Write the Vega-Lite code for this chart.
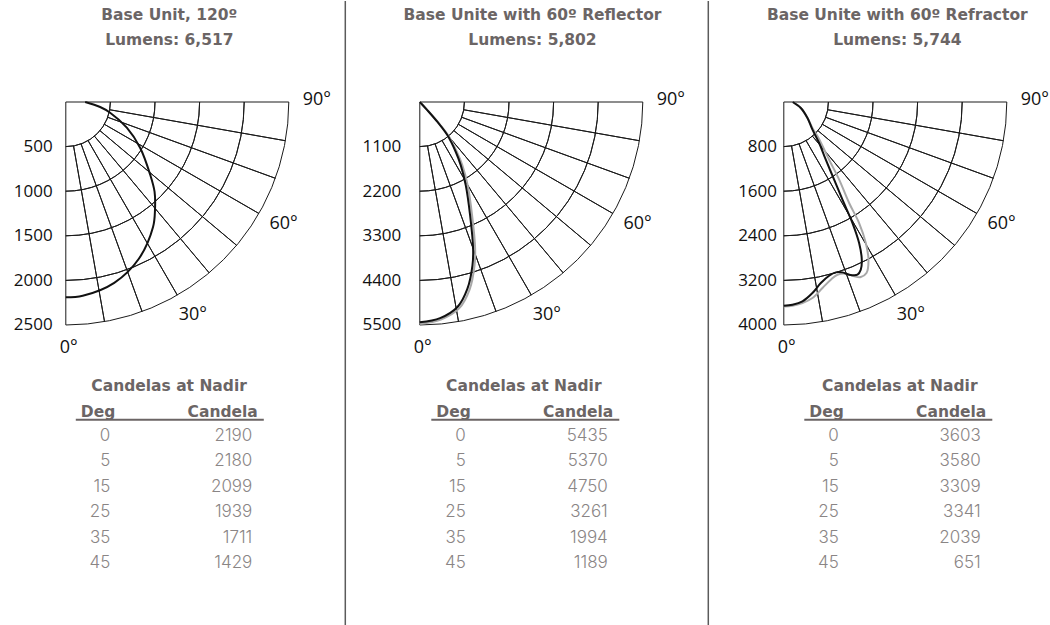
{
  "$schema": "https://vega.github.io/schema/vega-lite/v6.json",
  "padding": {"left": 12.8, "top": 0, "right": 0, "bottom": 0},
  "background": "white",
  "bounds": "full",
  "spacing": 12.5,
  "config": {"view": {"stroke": null}, "font": "Inter"},
  "datasets": {
    "deglabels": [{"lab": "0°", "a": 0}, {"lab": "30°", "a": 30}, {"lab": "60°", "a": 60}, {"lab": "90°", "a": 90}]
  },
  "hconcat": [
    {
      "bounds": "flush",
      "spacing": 48,
      "vconcat": [
        {
          "width": 223, "height": 53,
          "data": {"values": [{"line": 1, "text": "Base Unit, 120º"}, {"line": 2, "text": "Lumens: 6,517"}]},
          "mark": {"type": "text", "font": "DejaVu Sans", "fontSize": 15.5, "fontWeight": "bold", "color": "#6b6565", "baseline": "middle", "dx": -8},
          "encoding": {
            "y": {"field": "line", "type": "ordinal", "scale": {"type": "point", "padding": 0.56}, "axis": null},
            "text": {"field": "text"}
          }
        },
        {
          "bounds": "flush",
          "spacing": 94.3,
          "center": true,
          "vconcat": [
            {
              "width": 223, "height": 223,
              "layer": [
                {
                  "data": {"values": [
                    {"a0": 0, "a1": 90, "r0": 0, "r1": 2500},
                    {"a0": 0, "a1": 90, "r0": 500, "r1": 500}, {"a0": 0, "a1": 90, "r0": 1000, "r1": 1000},
                    {"a0": 0, "a1": 90, "r0": 1500, "r1": 1500}, {"a0": 0, "a1": 90, "r0": 2000, "r1": 2000},
                    {"a0": 10, "a1": 10, "r0": 500, "r1": 2500}, {"a0": 20, "a1": 20, "r0": 500, "r1": 2500},
                    {"a0": 30, "a1": 30, "r0": 500, "r1": 2500}, {"a0": 40, "a1": 40, "r0": 500, "r1": 2500},
                    {"a0": 50, "a1": 50, "r0": 500, "r1": 2500}, {"a0": 60, "a1": 60, "r0": 500, "r1": 2500},
                    {"a0": 70, "a1": 70, "r0": 500, "r1": 2500}, {"a0": 80, "a1": 80, "r0": 500, "r1": 2500}
                  ]},
                  "mark": {"type": "arc", "filled": false, "color": "#1a1a1a", "strokeWidth": 1},
                  "encoding": {
                    "x": {"datum": 0, "type": "quantitative", "scale": {"domain": [0, 2500], "nice": false, "zero": true}, "axis": null},
                    "y": {"datum": 0, "type": "quantitative", "scale": {"domain": [0, 2500], "nice": false, "reverse": true}, "axis": {"values": [500, 1000, 1500, 2000, 2500], "format": "d", "title": null, "domain": false, "ticks": false, "tickSize": 0, "grid": false, "labelFont": "Open Sans", "labelFontSize": 17, "labelColor": "#111111", "labelPadding": 13.6, "labelBaseline": "middle"}},
                    "theta": {"field": "a0", "type": "quantitative", "stack": null, "scale": {"domain": [0, 90], "range": [3.14159265, 1.57079633]}},
                    "theta2": {"field": "a1"},
                    "radius": {"field": "r0", "type": "quantitative", "scale": {"type": "linear", "domain": [0, 2500], "range": [0, 223], "zero": true}},
                    "radius2": {"field": "r1"}
                  }
                },
                {
                  "data": {"values": [
                    {"i": 0, "x": 0, "y": 2190}, {"i": 1, "x": 190, "y": 2172}, {"i": 2, "x": 543, "y": 2027},
                    {"i": 3, "x": 819, "y": 1757}, {"i": 4, "x": 978, "y": 1402}, {"i": 5, "x": 1000, "y": 1205},
                    {"i": 6, "x": 995, "y": 1005}, {"i": 7, "x": 945, "y": 811}, {"i": 8, "x": 833, "y": 512},
                    {"i": 9, "x": 684, "y": 288}, {"i": 10, "x": 497, "y": 120}, {"i": 11, "x": 385, "y": 56},
                    {"i": 12, "x": 217, "y": 0}
                  ]},
                  "mark": {"type": "line", "interpolate": "catmull-rom", "color": "#111111", "strokeWidth": 2},
                  "encoding": {
                    "x": {"field": "x", "type": "quantitative", "scale": {"domain": [0, 2500], "nice": false, "zero": true}, "axis": null},
                    "y": {"field": "y", "type": "quantitative", "scale": {"domain": [0, 2500], "nice": false, "reverse": true}, "axis": {"values": [500, 1000, 1500, 2000, 2500], "format": "d", "title": null, "domain": false, "ticks": false, "tickSize": 0, "grid": false, "labelFont": "Open Sans", "labelFontSize": 17, "labelColor": "#111111", "labelPadding": 13.6, "labelBaseline": "middle"}},
                    "order": {"field": "i", "type": "quantitative"}
                  }
                },
                {
                  "data": {"name": "deglabels"},
                  "mark": {"type": "text", "radius": 248, "font": "Open Sans", "fontSize": 18, "color": "#111111", "align": "center", "baseline": "middle", "dx": 3, "dy": -2},
                  "encoding": {
                    "x": {"datum": 0, "type": "quantitative", "scale": {"domain": [0, 2500], "nice": false, "zero": true}, "axis": null},
                    "y": {"datum": 0, "type": "quantitative", "scale": {"domain": [0, 2500], "nice": false, "reverse": true}, "axis": {"values": [500, 1000, 1500, 2000, 2500], "format": "d", "title": null, "domain": false, "ticks": false, "tickSize": 0, "grid": false, "labelFont": "Open Sans", "labelFontSize": 17, "labelColor": "#111111", "labelPadding": 13.6, "labelBaseline": "middle"}},
                    "theta": {"field": "a", "type": "quantitative", "stack": null, "scale": {"domain": [0, 90], "range": [3.14159265, 1.57079633]}},
                    "text": {"field": "lab"}
                  }
                }
              ]
            },
            {
              "width": 204, "height": 160.6,
              "title": {"text": "Candelas at Nadir", "font": "DejaVu Sans", "fontSize": 15.5, "fontWeight": "bold", "color": "#6b6565", "offset": 9.5, "anchor": "middle", "dx": -8.2},
              "data": {"values": [
                {"Deg": 0, "Candela": 2190}, {"Deg": 5, "Candela": 2180}, {"Deg": 15, "Candela": 2099},
                {"Deg": 25, "Candela": 1939}, {"Deg": 35, "Candela": 1711}, {"Deg": 45, "Candela": 1429}
              ]},
              "layer": [
                {
                  "mark": {"type": "text", "align": "right", "baseline": "middle", "dx": 29.5, "font": "Inter", "fontSize": 17, "fontWeight": 300, "color": "#8a8585"},
                  "encoding": {
                    "x": {"datum": "Deg", "type": "nominal", "scale": {"type": "band", "domain": ["Deg", "Candela"], "range": [0, 188], "paddingInner": 0.938, "paddingOuter": 0}, "axis": {"orient": "top", "bandPosition": 0, "labelAngle": 0, "title": null, "domain": true, "domainColor": "#6b6565", "domainWidth": 2, "ticks": false, "tickSize": 0, "labelFont": "DejaVu Sans", "labelFontSize": 15.5, "labelFontWeight": "bold", "labelColor": "#6b6565", "labelPadding": 3, "labelBaseline": "alphabetic", "labelOverlap": false, "labelAlign": {"condition": {"test": "datum.value == 'Deg'", "value": "left"}, "value": "right"}}},
                    "y": {"field": "Deg", "type": "ordinal", "scale": {"type": "point", "padding": 0.65}, "axis": null},
                    "text": {"field": "Deg"}
                  }
                },
                {
                  "mark": {"type": "text", "align": "right", "baseline": "middle", "dx": -5.5, "font": "Inter", "fontSize": 17, "fontWeight": 300, "color": "#8a8585"},
                  "encoding": {
                    "x": {"datum": "Candela", "type": "nominal", "scale": {"type": "band", "domain": ["Deg", "Candela"], "range": [0, 188], "paddingInner": 0.938, "paddingOuter": 0}, "axis": {"orient": "top", "bandPosition": 0, "labelAngle": 0, "title": null, "domain": true, "domainColor": "#6b6565", "domainWidth": 2, "ticks": false, "tickSize": 0, "labelFont": "DejaVu Sans", "labelFontSize": 15.5, "labelFontWeight": "bold", "labelColor": "#6b6565", "labelPadding": 3, "labelBaseline": "alphabetic", "labelOverlap": false, "labelAlign": {"condition": {"test": "datum.value == 'Deg'", "value": "left"}, "value": "right"}}},
                    "y": {"field": "Deg", "type": "ordinal", "scale": {"type": "point", "padding": 0.65}, "axis": null},
                    "text": {"field": "Candela"}
                  }
                }
              ]
            }
          ]
        }
      ]
    },
    {
      "width": 3.5, "height": 625,
      "data": {"values": [{"s": 0}]},
      "mark": {"type": "rule", "color": "#5b5b5b", "strokeWidth": 1.5},
      "encoding": {"x": {"field": "s", "type": "quantitative", "scale": {"domain": [0, 1]}, "axis": null}}
    },
    {
      "bounds": "flush",
      "spacing": 48,
      "vconcat": [
        {
          "width": 274.75, "height": 53,
          "data": {"values": [{"line": 1, "text": "Base Unite with 60º Reflector"}, {"line": 2, "text": "Lumens: 5,802"}]},
          "mark": {"type": "text", "font": "DejaVu Sans", "fontSize": 15.5, "fontWeight": "bold", "color": "#6b6565", "baseline": "middle", "dx": -24.7},
          "encoding": {
            "y": {"field": "line", "type": "ordinal", "scale": {"type": "point", "padding": 0.56}, "axis": null},
            "text": {"field": "text"}
          }
        },
        {
          "bounds": "flush",
          "spacing": 94.3,
          "center": true,
          "vconcat": [
            {
              "width": 223, "height": 223,
              "layer": [
                {
                  "data": {"values": [
                    {"a0": 0, "a1": 90, "r0": 0, "r1": 5500},
                    {"a0": 0, "a1": 90, "r0": 1100, "r1": 1100}, {"a0": 0, "a1": 90, "r0": 2200, "r1": 2200},
                    {"a0": 0, "a1": 90, "r0": 3300, "r1": 3300}, {"a0": 0, "a1": 90, "r0": 4400, "r1": 4400},
                    {"a0": 10, "a1": 10, "r0": 1100, "r1": 5500}, {"a0": 20, "a1": 20, "r0": 1100, "r1": 5500},
                    {"a0": 30, "a1": 30, "r0": 1100, "r1": 5500}, {"a0": 40, "a1": 40, "r0": 1100, "r1": 5500},
                    {"a0": 50, "a1": 50, "r0": 1100, "r1": 5500}, {"a0": 60, "a1": 60, "r0": 1100, "r1": 5500},
                    {"a0": 70, "a1": 70, "r0": 1100, "r1": 5500}, {"a0": 80, "a1": 80, "r0": 1100, "r1": 5500}
                  ]},
                  "mark": {"type": "arc", "filled": false, "color": "#1a1a1a", "strokeWidth": 1},
                  "encoding": {
                    "x": {"datum": 0, "type": "quantitative", "scale": {"domain": [0, 5500], "nice": false, "zero": true}, "axis": null},
                    "y": {"datum": 0, "type": "quantitative", "scale": {"domain": [0, 5500], "nice": false, "reverse": true}, "axis": {"values": [1100, 2200, 3300, 4400, 5500], "format": "d", "title": null, "domain": false, "ticks": false, "tickSize": 0, "grid": false, "labelFont": "Open Sans", "labelFontSize": 17, "labelColor": "#111111", "labelPadding": 19, "labelBaseline": "middle"}},
                    "theta": {"field": "a0", "type": "quantitative", "stack": null, "scale": {"domain": [0, 90], "range": [3.14159265, 1.57079633]}},
                    "theta2": {"field": "a1"},
                    "radius": {"field": "r0", "type": "quantitative", "scale": {"type": "linear", "domain": [0, 5500], "range": [0, 223], "zero": true}},
                    "radius2": {"field": "r1"}
                  }
                },
                {
                  "data": {"values": [
                    {"i": 0, "x": 0, "y": 5470}, {"i": 1, "x": 520, "y": 5365}, {"i": 2, "x": 970, "y": 5090},
                    {"i": 3, "x": 1230, "y": 4620}, {"i": 4, "x": 1350, "y": 4028}, {"i": 5, "x": 1365, "y": 3617},
                    {"i": 6, "x": 1290, "y": 2795}, {"i": 7, "x": 1180, "y": 2055}, {"i": 8, "x": 1050, "y": 1562},
                    {"i": 9, "x": 915, "y": 1233}, {"i": 10, "x": 700, "y": 822}, {"i": 11, "x": 445, "y": 493},
                    {"i": 12, "x": 195, "y": 206}, {"i": 13, "x": 0, "y": 0}
                  ]},
                  "mark": {"type": "line", "interpolate": "catmull-rom", "color": "#a8a8a8", "strokeWidth": 2},
                  "encoding": {
                    "x": {"field": "x", "type": "quantitative", "scale": {"domain": [0, 5500], "nice": false, "zero": true}, "axis": null},
                    "y": {"field": "y", "type": "quantitative", "scale": {"domain": [0, 5500], "nice": false, "reverse": true}, "axis": {"values": [1100, 2200, 3300, 4400, 5500], "format": "d", "title": null, "domain": false, "ticks": false, "tickSize": 0, "grid": false, "labelFont": "Open Sans", "labelFontSize": 17, "labelColor": "#111111", "labelPadding": 19, "labelBaseline": "middle"}},
                    "order": {"field": "i", "type": "quantitative"}
                  }
                },
                {
                  "data": {"values": [
                    {"i": 0, "x": 0, "y": 5435}, {"i": 1, "x": 500, "y": 5330}, {"i": 2, "x": 929, "y": 5055},
                    {"i": 3, "x": 1175, "y": 4603}, {"i": 4, "x": 1299, "y": 4028}, {"i": 5, "x": 1315, "y": 3617},
                    {"i": 6, "x": 1241, "y": 2795}, {"i": 7, "x": 1134, "y": 2055}, {"i": 8, "x": 1011, "y": 1562},
                    {"i": 9, "x": 888, "y": 1233}, {"i": 10, "x": 682, "y": 822}, {"i": 11, "x": 436, "y": 493},
                    {"i": 12, "x": 189, "y": 206}, {"i": 13, "x": 0, "y": 0}
                  ]},
                  "mark": {"type": "line", "interpolate": "catmull-rom", "color": "#111111", "strokeWidth": 2},
                  "encoding": {
                    "x": {"field": "x", "type": "quantitative", "scale": {"domain": [0, 5500], "nice": false, "zero": true}, "axis": null},
                    "y": {"field": "y", "type": "quantitative", "scale": {"domain": [0, 5500], "nice": false, "reverse": true}, "axis": {"values": [1100, 2200, 3300, 4400, 5500], "format": "d", "title": null, "domain": false, "ticks": false, "tickSize": 0, "grid": false, "labelFont": "Open Sans", "labelFontSize": 17, "labelColor": "#111111", "labelPadding": 19, "labelBaseline": "middle"}},
                    "order": {"field": "i", "type": "quantitative"}
                  }
                },
                {
                  "data": {"name": "deglabels"},
                  "mark": {"type": "text", "radius": 248, "font": "Open Sans", "fontSize": 18, "color": "#111111", "align": "center", "baseline": "middle", "dx": 3, "dy": -2},
                  "encoding": {
                    "x": {"datum": 0, "type": "quantitative", "scale": {"domain": [0, 5500], "nice": false, "zero": true}, "axis": null},
                    "y": {"datum": 0, "type": "quantitative", "scale": {"domain": [0, 5500], "nice": false, "reverse": true}, "axis": {"values": [1100, 2200, 3300, 4400, 5500], "format": "d", "title": null, "domain": false, "ticks": false, "tickSize": 0, "grid": false, "labelFont": "Open Sans", "labelFontSize": 17, "labelColor": "#111111", "labelPadding": 19, "labelBaseline": "middle"}},
                    "theta": {"field": "a", "type": "quantitative", "stack": null, "scale": {"domain": [0, 90], "range": [3.14159265, 1.57079633]}},
                    "text": {"field": "lab"}
                  }
                }
              ]
            },
            {
              "width": 201, "height": 160.6,
              "title": {"text": "Candelas at Nadir", "font": "DejaVu Sans", "fontSize": 15.5, "fontWeight": "bold", "color": "#6b6565", "offset": 9.5, "anchor": "middle", "dx": -7.5},
              "data": {"values": [
                {"Deg": 0, "Candela": 5435}, {"Deg": 5, "Candela": 5370}, {"Deg": 15, "Candela": 4750},
                {"Deg": 25, "Candela": 3261}, {"Deg": 35, "Candela": 1994}, {"Deg": 45, "Candela": 1189}
              ]},
              "layer": [
                {
                  "mark": {"type": "text", "align": "right", "baseline": "middle", "dx": 29.5, "font": "Inter", "fontSize": 17, "fontWeight": 300, "color": "#8a8585"},
                  "encoding": {
                    "x": {"datum": "Deg", "type": "nominal", "scale": {"type": "band", "domain": ["Deg", "Candela"], "range": [0, 188], "paddingInner": 0.938, "paddingOuter": 0}, "axis": {"orient": "top", "bandPosition": 0, "labelAngle": 0, "title": null, "domain": true, "domainColor": "#6b6565", "domainWidth": 2, "ticks": false, "tickSize": 0, "labelFont": "DejaVu Sans", "labelFontSize": 15.5, "labelFontWeight": "bold", "labelColor": "#6b6565", "labelPadding": 3, "labelBaseline": "alphabetic", "labelOverlap": false, "labelAlign": {"condition": {"test": "datum.value == 'Deg'", "value": "left"}, "value": "right"}}},
                    "y": {"field": "Deg", "type": "ordinal", "scale": {"type": "point", "padding": 0.65}, "axis": null},
                    "text": {"field": "Deg"}
                  }
                },
                {
                  "mark": {"type": "text", "align": "right", "baseline": "middle", "dx": -5.5, "font": "Inter", "fontSize": 17, "fontWeight": 300, "color": "#8a8585"},
                  "encoding": {
                    "x": {"datum": "Candela", "type": "nominal", "scale": {"type": "band", "domain": ["Deg", "Candela"], "range": [0, 188], "paddingInner": 0.938, "paddingOuter": 0}, "axis": {"orient": "top", "bandPosition": 0, "labelAngle": 0, "title": null, "domain": true, "domainColor": "#6b6565", "domainWidth": 2, "ticks": false, "tickSize": 0, "labelFont": "DejaVu Sans", "labelFontSize": 15.5, "labelFontWeight": "bold", "labelColor": "#6b6565", "labelPadding": 3, "labelBaseline": "alphabetic", "labelOverlap": false, "labelAlign": {"condition": {"test": "datum.value == 'Deg'", "value": "left"}, "value": "right"}}},
                    "y": {"field": "Deg", "type": "ordinal", "scale": {"type": "point", "padding": 0.65}, "axis": null},
                    "text": {"field": "Candela"}
                  }
                }
              ]
            }
          ]
        }
      ]
    },
    {
      "width": 16, "height": 625,
      "data": {"values": [{"s": 0}]},
      "mark": {"type": "rule", "color": "#5b5b5b", "strokeWidth": 1.5},
      "encoding": {"x": {"field": "s", "type": "quantitative", "scale": {"domain": [0, 1]}, "axis": null}}
    },
    {
      "bounds": "flush",
      "spacing": 48,
      "vconcat": [
        {
          "width": 223, "height": 53,
          "data": {"values": [{"line": 1, "text": "Base Unite with 60º Refractor"}, {"line": 2, "text": "Lumens: 5,744"}]},
          "mark": {"type": "text", "font": "DejaVu Sans", "fontSize": 15.5, "fontWeight": "bold", "color": "#6b6565", "baseline": "middle", "dx": 2},
          "encoding": {
            "y": {"field": "line", "type": "ordinal", "scale": {"type": "point", "padding": 0.56}, "axis": null},
            "text": {"field": "text"}
          }
        },
        {
          "bounds": "flush",
          "spacing": 94.3,
          "center": true,
          "vconcat": [
            {
              "width": 223, "height": 223,
              "layer": [
                {
                  "data": {"values": [
                    {"a0": 0, "a1": 90, "r0": 0, "r1": 4000},
                    {"a0": 0, "a1": 90, "r0": 800, "r1": 800}, {"a0": 0, "a1": 90, "r0": 1600, "r1": 1600},
                    {"a0": 0, "a1": 90, "r0": 2400, "r1": 2400}, {"a0": 0, "a1": 90, "r0": 3200, "r1": 3200},
                    {"a0": 10, "a1": 10, "r0": 800, "r1": 4000}, {"a0": 20, "a1": 20, "r0": 800, "r1": 4000},
                    {"a0": 30, "a1": 30, "r0": 800, "r1": 4000}, {"a0": 40, "a1": 40, "r0": 800, "r1": 4000},
                    {"a0": 50, "a1": 50, "r0": 800, "r1": 4000}, {"a0": 60, "a1": 60, "r0": 800, "r1": 4000},
                    {"a0": 70, "a1": 70, "r0": 800, "r1": 4000}, {"a0": 80, "a1": 80, "r0": 800, "r1": 4000}
                  ]},
                  "mark": {"type": "arc", "filled": false, "color": "#1a1a1a", "strokeWidth": 1},
                  "encoding": {
                    "x": {"datum": 0, "type": "quantitative", "scale": {"domain": [0, 4000], "nice": false, "zero": true}, "axis": null},
                    "y": {"datum": 0, "type": "quantitative", "scale": {"domain": [0, 4000], "nice": false, "reverse": true}, "axis": {"values": [800, 1600, 2400, 3200, 4000], "format": "d", "title": null, "domain": false, "ticks": false, "tickSize": 0, "grid": false, "labelFont": "Open Sans", "labelFontSize": 17, "labelColor": "#111111", "labelPadding": 7.3, "labelBaseline": "middle"}},
                    "theta": {"field": "a0", "type": "quantitative", "stack": null, "scale": {"domain": [0, 90], "range": [3.14159265, 1.57079633]}},
                    "theta2": {"field": "a1"},
                    "radius": {"field": "r0", "type": "quantitative", "scale": {"type": "linear", "domain": [0, 4000], "range": [0, 223], "zero": true}},
                    "radius2": {"field": "r1"}
                  }
                },
                {
                  "data": {"values": [
                    {"i": 0, "x": 0, "y": 3666}, {"i": 1, "x": 155, "y": 3654}, {"i": 2, "x": 335, "y": 3606},
                    {"i": 3, "x": 514, "y": 3516}, {"i": 4, "x": 694, "y": 3337}, {"i": 5, "x": 843, "y": 3187},
                    {"i": 6, "x": 963, "y": 3098}, {"i": 7, "x": 1112, "y": 3080}, {"i": 8, "x": 1262, "y": 3128},
                    {"i": 9, "x": 1381, "y": 3140}, {"i": 10, "x": 1483, "y": 3068}, {"i": 11, "x": 1519, "y": 2829},
                    {"i": 12, "x": 1471, "y": 2530}, {"i": 13, "x": 1351, "y": 2171}, {"i": 14, "x": 1172, "y": 1812},
                    {"i": 15, "x": 993, "y": 1393}, {"i": 16, "x": 813, "y": 1035}, {"i": 17, "x": 620, "y": 640},
                    {"i": 18, "x": 520, "y": 480}, {"i": 19, "x": 425, "y": 287}, {"i": 20, "x": 305, "y": 108},
                    {"i": 21, "x": 160, "y": 0}
                  ]},
                  "mark": {"type": "line", "interpolate": "catmull-rom", "color": "#a8a8a8", "strokeWidth": 2},
                  "encoding": {
                    "x": {"field": "x", "type": "quantitative", "scale": {"domain": [0, 4000], "nice": false, "zero": true}, "axis": null},
                    "y": {"field": "y", "type": "quantitative", "scale": {"domain": [0, 4000], "nice": false, "reverse": true}, "axis": {"values": [800, 1600, 2400, 3200, 4000], "format": "d", "title": null, "domain": false, "ticks": false, "tickSize": 0, "grid": false, "labelFont": "Open Sans", "labelFontSize": 17, "labelColor": "#111111", "labelPadding": 7.3, "labelBaseline": "middle"}},
                    "order": {"field": "i", "type": "quantitative"}
                  }
                },
                {
                  "data": {"values": [
                    {"i": 0, "x": 0, "y": 3654}, {"i": 1, "x": 155, "y": 3636}, {"i": 2, "x": 335, "y": 3576},
                    {"i": 3, "x": 514, "y": 3427}, {"i": 4, "x": 664, "y": 3247}, {"i": 5, "x": 813, "y": 3116},
                    {"i": 6, "x": 933, "y": 3056}, {"i": 7, "x": 1052, "y": 3056}, {"i": 8, "x": 1172, "y": 3098},
                    {"i": 9, "x": 1322, "y": 3098}, {"i": 10, "x": 1381, "y": 3008}, {"i": 11, "x": 1399, "y": 2829},
                    {"i": 12, "x": 1351, "y": 2530}, {"i": 13, "x": 1232, "y": 2171}, {"i": 14, "x": 1052, "y": 1752},
                    {"i": 15, "x": 903, "y": 1393}, {"i": 16, "x": 753, "y": 1035}, {"i": 17, "x": 634, "y": 736},
                    {"i": 18, "x": 514, "y": 496}, {"i": 19, "x": 425, "y": 287}, {"i": 20, "x": 305, "y": 108},
                    {"i": 21, "x": 160, "y": 0}
                  ]},
                  "mark": {"type": "line", "interpolate": "catmull-rom", "color": "#111111", "strokeWidth": 2},
                  "encoding": {
                    "x": {"field": "x", "type": "quantitative", "scale": {"domain": [0, 4000], "nice": false, "zero": true}, "axis": null},
                    "y": {"field": "y", "type": "quantitative", "scale": {"domain": [0, 4000], "nice": false, "reverse": true}, "axis": {"values": [800, 1600, 2400, 3200, 4000], "format": "d", "title": null, "domain": false, "ticks": false, "tickSize": 0, "grid": false, "labelFont": "Open Sans", "labelFontSize": 17, "labelColor": "#111111", "labelPadding": 7.3, "labelBaseline": "middle"}},
                    "order": {"field": "i", "type": "quantitative"}
                  }
                },
                {
                  "data": {"name": "deglabels"},
                  "mark": {"type": "text", "radius": 248, "font": "Open Sans", "fontSize": 18, "color": "#111111", "align": "center", "baseline": "middle", "dx": 3, "dy": -2},
                  "encoding": {
                    "x": {"datum": 0, "type": "quantitative", "scale": {"domain": [0, 4000], "nice": false, "zero": true}, "axis": null},
                    "y": {"datum": 0, "type": "quantitative", "scale": {"domain": [0, 4000], "nice": false, "reverse": true}, "axis": {"values": [800, 1600, 2400, 3200, 4000], "format": "d", "title": null, "domain": false, "ticks": false, "tickSize": 0, "grid": false, "labelFont": "Open Sans", "labelFontSize": 17, "labelColor": "#111111", "labelPadding": 7.3, "labelBaseline": "middle"}},
                    "theta": {"field": "a", "type": "quantitative", "stack": null, "scale": {"domain": [0, 90], "range": [3.14159265, 1.57079633]}},
                    "text": {"field": "lab"}
                  }
                }
              ]
            },
            {
              "width": 183, "height": 160.6,
              "title": {"text": "Candelas at Nadir", "font": "DejaVu Sans", "fontSize": 15.5, "fontWeight": "bold", "color": "#6b6565", "offset": 9.5, "anchor": "middle", "dx": 4.5},
              "data": {"values": [
                {"Deg": 0, "Candela": 3603}, {"Deg": 5, "Candela": 3580}, {"Deg": 15, "Candela": 3309},
                {"Deg": 25, "Candela": 3341}, {"Deg": 35, "Candela": 2039}, {"Deg": 45, "Candela": 651}
              ]},
              "layer": [
                {
                  "mark": {"type": "text", "align": "right", "baseline": "middle", "dx": 29.5, "font": "Inter", "fontSize": 17, "fontWeight": 300, "color": "#8a8585"},
                  "encoding": {
                    "x": {"datum": "Deg", "type": "nominal", "scale": {"type": "band", "domain": ["Deg", "Candela"], "range": [0, 188], "paddingInner": 0.938, "paddingOuter": 0}, "axis": {"orient": "top", "bandPosition": 0, "labelAngle": 0, "title": null, "domain": true, "domainColor": "#6b6565", "domainWidth": 2, "ticks": false, "tickSize": 0, "labelFont": "DejaVu Sans", "labelFontSize": 15.5, "labelFontWeight": "bold", "labelColor": "#6b6565", "labelPadding": 3, "labelBaseline": "alphabetic", "labelOverlap": false, "labelAlign": {"condition": {"test": "datum.value == 'Deg'", "value": "left"}, "value": "right"}}},
                    "y": {"field": "Deg", "type": "ordinal", "scale": {"type": "point", "padding": 0.65}, "axis": null},
                    "text": {"field": "Deg"}
                  }
                },
                {
                  "mark": {"type": "text", "align": "right", "baseline": "middle", "dx": -5.5, "font": "Inter", "fontSize": 17, "fontWeight": 300, "color": "#8a8585"},
                  "encoding": {
                    "x": {"datum": "Candela", "type": "nominal", "scale": {"type": "band", "domain": ["Deg", "Candela"], "range": [0, 188], "paddingInner": 0.938, "paddingOuter": 0}, "axis": {"orient": "top", "bandPosition": 0, "labelAngle": 0, "title": null, "domain": true, "domainColor": "#6b6565", "domainWidth": 2, "ticks": false, "tickSize": 0, "labelFont": "DejaVu Sans", "labelFontSize": 15.5, "labelFontWeight": "bold", "labelColor": "#6b6565", "labelPadding": 3, "labelBaseline": "alphabetic", "labelOverlap": false, "labelAlign": {"condition": {"test": "datum.value == 'Deg'", "value": "left"}, "value": "right"}}},
                    "y": {"field": "Deg", "type": "ordinal", "scale": {"type": "point", "padding": 0.65}, "axis": null},
                    "text": {"field": "Candela"}
                  }
                }
              ]
            }
          ]
        }
      ]
    }
  ]
}
